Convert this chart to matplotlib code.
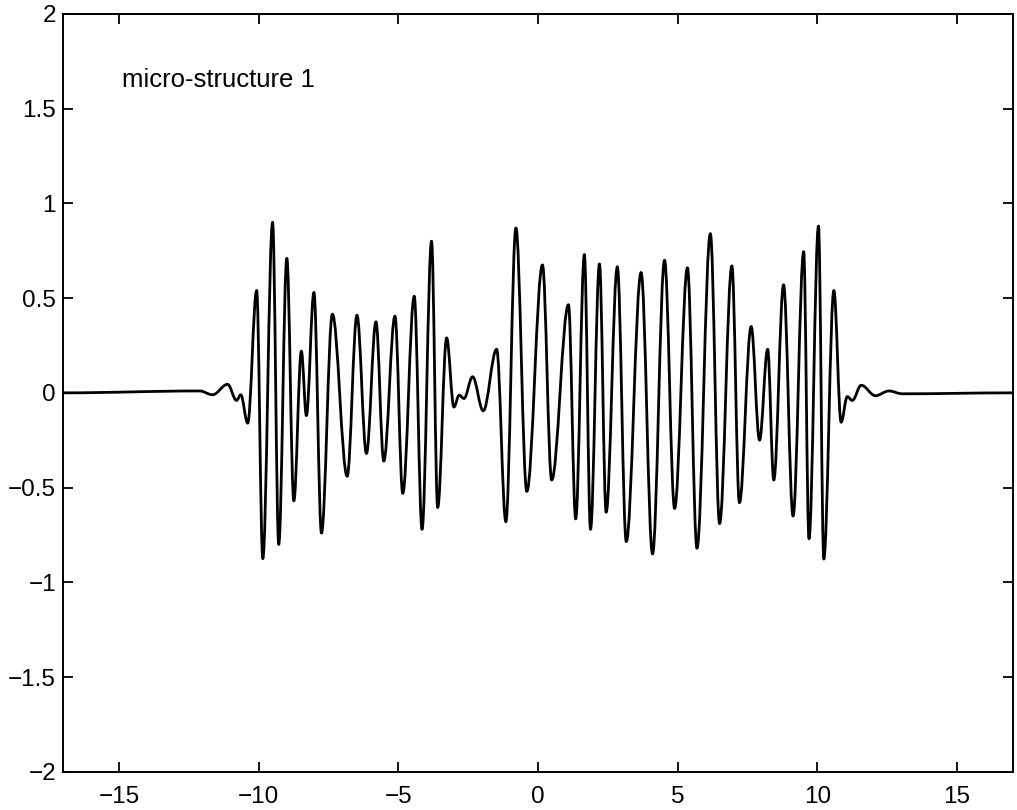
import numpy as np
import matplotlib.pyplot as plt
from matplotlib.path import Path
from matplotlib.patches import PathPatch

plt.rcParams['font.family'] = ['Liberation Sans', 'DejaVu Sans']

# turning points of the signal (x, amplitude)
peak_x = [-12.11, -11.65, -11.11, -10.79, -10.64, -10.39, -10.07, -9.85, -9.50, -9.28,
          -8.99, -8.74, -8.47, -8.29, -8.02, -7.75, -7.36, -6.83, -6.48, -6.14,
          -5.80, -5.52, -5.12, -4.84, -4.43, -4.15, -3.81, -3.59, -3.27, -3.01,
          -2.82, -2.65, -2.34, -1.96, -1.48, -1.15, -0.79, -0.40, 0.16, 0.49,
          1.09, 1.35, 1.66, 1.88, 2.20, 2.44, 2.84, 3.16, 3.69, 4.10,
          4.53, 4.89, 5.35, 5.69, 6.17, 6.50, 6.94, 7.21, 7.63, 7.93,
          8.22, 8.44, 8.79, 9.13, 9.51, 9.70, 10.04, 10.23, 10.59, 10.85,
          11.07, 11.25, 11.57, 12.08, 12.56, 13.04]
peak_y = [0.01, -0.01, 0.045, -0.04, -0.01, -0.16, 0.54, -0.875, 0.90, -0.80,
          0.71, -0.57, 0.22, -0.12, 0.53, -0.74, 0.415, -0.44, 0.41, -0.32,
          0.375, -0.36, 0.405, -0.53, 0.51, -0.72, 0.80, -0.605, 0.29, -0.075,
          -0.012, -0.03, 0.085, -0.095, 0.23, -0.68, 0.87, -0.52, 0.675, -0.46,
          0.465, -0.665, 0.73, -0.72, 0.68, -0.63, 0.665, -0.785, 0.635, -0.85,
          0.70, -0.61, 0.66, -0.82, 0.84, -0.69, 0.67, -0.58, 0.35, -0.25,
          0.23, -0.46, 0.57, -0.65, 0.745, -0.77, 0.88, -0.877, 0.54, -0.155,
          -0.02, -0.04, 0.04, -0.015, 0.01, -0.005]

x_lim = (-17, 17)
y_lim = (-2, 2)
x_ticks = [-15, -10, -5, 0, 5, 10, 15]
y_ticks = [-2, -1.5, -1, -0.5, 0, 0.5, 1, 1.5, 2]
y_labels = ['\u22122', '\u22121.5', '\u22121', '\u22120.5', '0', '0.5', '1', '1.5', '2']
x_labels = ['\u221215', '\u221210', '\u22125', '0', '5', '10', '15']
label = 'micro-structure 1'

fig = plt.figure(figsize=(10.17, 8.10), dpi=100)
ax = fig.add_axes([0.062, 0.047, 0.934, 0.936])

# smooth curve: cubic bezier between turning points, flat tangents at each one
px = [x_lim[0]] + peak_x + [x_lim[1]]
py = [0.0] + peak_y + [0.0]
verts = [(px[0], py[0])]
codes = [Path.MOVETO]
k = 0.363
for i in range(len(px) - 1):
    dx = px[i + 1] - px[i]
    verts += [(px[i] + k * dx, py[i]), (px[i + 1] - k * dx, py[i + 1]), (px[i + 1], py[i + 1])]
    codes += [Path.CURVE4] * 3
ax.add_patch(PathPatch(Path(verts, codes), fill=False, edgecolor='black', lw=2.0,
                       capstyle='round', joinstyle='round'))

ax.set_xlim(*x_lim)
ax.set_ylim(*y_lim)
ax.set_xticks(x_ticks)
ax.set_xticklabels(x_labels)
ax.set_yticks(y_ticks)
ax.set_yticklabels(y_labels)
ax.tick_params(direction='in', length=7, width=1.3, top=True, right=True,
               labelsize=17.5, colors='black')
ax.tick_params(axis='x', pad=10)
ax.tick_params(axis='y', pad=5)
for s in ax.spines.values():
    s.set_linewidth(1.4)

ax.text(-14.9, 1.65, label, fontsize=18.5, va='center', ha='left')

fig.savefig('out.png', dpi=100)
